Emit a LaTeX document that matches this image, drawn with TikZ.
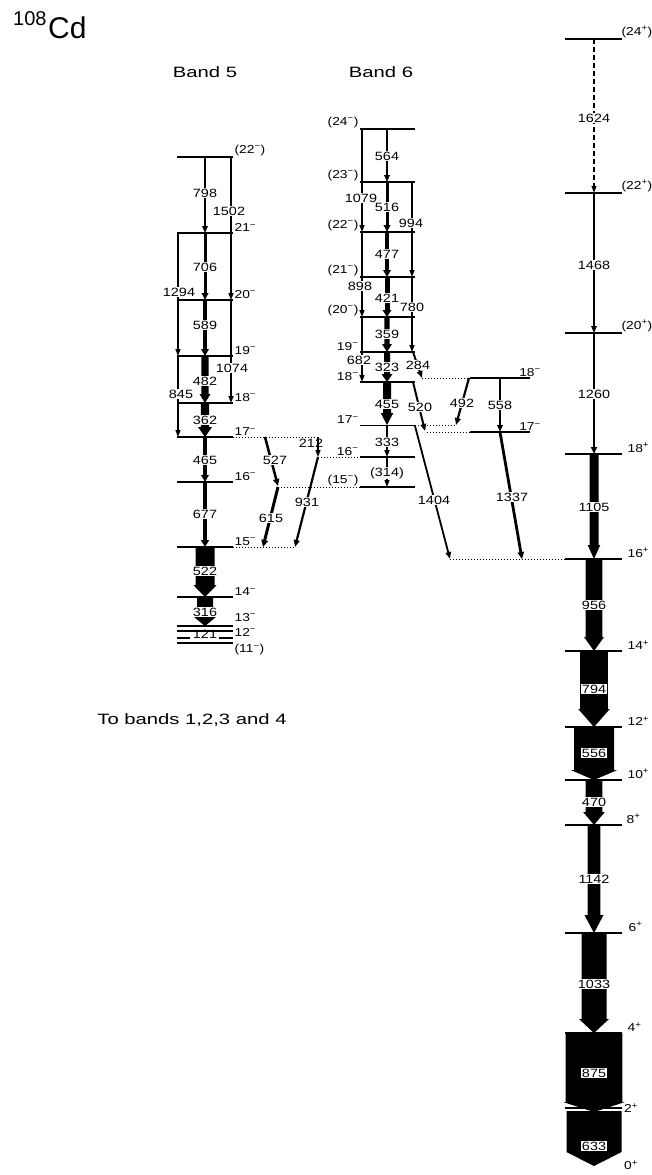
\documentclass[tikz,border=0pt]{standalone}
\usepackage{fontspec}
\setmainfont[FakeStretch=1.2]{Liberation Sans}
\newfontfamily\titlefont{Liberation Sans}
\newfontfamily\widefont[FakeStretch=1.35]{Liberation Sans}
\usetikzlibrary{arrows.meta}
\newcommand{\Mi}{\textsuperscript{−}}
\newcommand{\Pl}{\textsuperscript{+}}
% wide gamma arrow: x, y top, y tip, half width, head half width, head length
\newcommand{\fatgam}[6]{\fill (#1-#4,#2) -- (#1+#4,#2) -- (#1+#4,#3-#6) -- (#1+#5,#3-#6) -- (#1,#3) -- (#1-#5,#3-#6) -- (#1-#4,#3-#6) -- cycle;}

\begin{document}
\begin{tikzpicture}[x=1pt, y=-1pt,
    lev/.style={line width=1.2pt},
    link/.style={line width=1pt, dash pattern=on 1pt off 2pt},
    gam/.style={line width=#1, -{Triangle[length=7pt, width=3.5pt 1]}},
    gam/.default=1.5pt,
    lab/.style={fill=white, inner sep=0.6pt, font=\fontsize{12}{12}\selectfont},
    spin/.style={inner sep=1pt, font=\fontsize{11.5}{12}\selectfont}]
        \useasboundingbox (0,0) rectangle (651,1175);

        % title and band names
        \node[anchor=base west, inner sep=0, font=\titlefont\fontsize{20}{20}\selectfont] (mass) at (13,25) {108};
        \node[anchor=base west, inner sep=0, font=\titlefont\fontsize{30}{30}\selectfont] (elem) at (48,38) {Cd};
        \node[font=\widefont\fontsize{15}{15}\selectfont] (band5) at (205,72) {Band 5};
        \node[font=\widefont\fontsize{15}{15}\selectfont] (band6) at (381,72) {Band 6};
        \node[font=\widefont\fontsize{15}{15}\selectfont] (tobands) at (192,720) {To bands 1,2,3 and 4};

        % band 5 levels
        \foreach \y/\s/\a/\dy in {157/{(22\Mi)}/south west/0, 233/21\Mi/south west/0, 300/20\Mi/south west/0,
                356/19\Mi/south west/0, 403/18\Mi/south west/0, 437/17\Mi/south west/0, 482/16\Mi/south west/0,
                547/15\Mi/south west/0, 597/14\Mi/south west/0, 626/13\Mi/south west/3, 631/12\Mi/west/-1,
                643/{(11\Mi)}/north west/0}
            \draw[lev] (177,\y) -- (233,\y) node[spin, anchor=\a, yshift=\dy pt] (b5-\y) {\s};
        \draw[lev] (177,638) -- (190,638);
        \draw[lev] (219,638) -- (233,638);

        % band 6 levels
        \foreach \y/\s in {129/{(24\Mi)}, 182/{(23\Mi)}, 232/{(22\Mi)}, 277/{(21\Mi)}, 317/{(20\Mi)},
                352/19\Mi, 382/18\Mi, 457/16\Mi, 487/{(15\Mi)}}
            \draw[lev] (415,\y) -- (360,\y) node[spin, anchor=south east] (b6-\y) {\s};
        \draw[line width=0.7pt] (415,425) -- (360,425) node[spin, anchor=south east] (b6-425) {17\Mi};

        % side levels
        \draw[lev] (470,378) -- (530,378) node[spin, anchor=south] (s-378) {18\Mi};
        \draw[lev] (470,432) -- (530,432) node[spin, anchor=south] (s-432) {17\Mi};

        % links between bands
        \draw[link] (233,437) -- (320,437);
        \draw[link] (233,547) -- (296,547);
        \draw[link] (318,457) -- (360,457);
        \draw[link] (278,487) -- (360,487);
        \draw[link] (415,425) -- (456,425);
        \draw[link] (422,378) -- (470,378);
        \draw[link] (427,432) -- (470,432);
        \draw[link] (450,559) -- (565,559);

        % ground band levels
        \foreach \y/\s/\dx in {39/{(24\Pl)}/-2, 193/{(22\Pl)}/-2, 333/{(20\Pl)}/-2, 454/18\Pl/4, 559/16\Pl/4,
                651/14\Pl/4, 727/12\Pl/4, 780/10\Pl/4, 825/8\Pl/3, 933/6\Pl/5, 1033/4\Pl/4}
            \draw[lev] (565,\y) -- (622,\y) node[spin, anchor=south west, xshift=\dx pt] (g-\y) {\s};
        \draw[lev] (565,1108) -- (622,1108);
        \node[spin, anchor=west] (g-1108) at (623,1108) {2\Pl};
        \node[spin, anchor=west] (g-1165) at (623,1165) {0\Pl};

        % band 5 transitions
        \draw[gam=2pt] (205,157) -- (205,233);
        \draw[gam] (231,157) -- (231,300);
        \draw[gam=3pt] (205,233) -- (205,300);
        \draw[gam] (178,233) -- (178,356);
        \draw[gam=4pt] (205,300) -- (205,356);
        \draw[gam] (231,300) -- (231,403);
        \fatgam{205}{356}{403}{3.7}{5.5}{9}
        \draw[gam] (178,356) -- (178,437);
        \fatgam{205}{403}{437}{4.2}{7}{10}
        \draw[gam=4pt] (205,437) -- (205,482);
        \draw[gam=4.5pt] (205,482) -- (205,547);
        \fatgam{205}{547}{597}{9.5}{11.7}{12}
        \fatgam{205}{597}{626}{8}{11}{9}

        % band 5 to band 6
        \draw[gam=2.5pt] (265,437) -- (278,486);
        \draw[gam=3pt] (278,487) -- (263,547);
        \draw[gam] (318,437) -- (318,457);
        \draw[gam=2.2pt] (318,457) -- (295,547);

        % band 6 transitions
        \draw[gam=2pt] (387,129) -- (387,182);
        \draw[gam] (362,129) -- (362,232);
        \draw[gam=3pt] (387,182) -- (387,232);
        \draw[gam] (412,182) -- (412,277);
        \draw[gam=4pt] (387,232) -- (387,277);
        \draw[gam] (362,232) -- (362,317);
        \draw[gam=5pt] (387,277) -- (387,317);
        \draw[gam] (412,277) -- (412,352);
        \fatgam{387}{317}{352}{2.6}{5}{8}
        \draw[gam] (362,317) -- (362,382);
        \fatgam{387}{352}{382}{3}{5.5}{8}
        \draw[gam=2pt] (413,352) -- (422,378);
        \fatgam{387}{382}{425}{4}{6.3}{12}
        \draw[gam=2pt] (413,382) -- (425,431);
        \draw[gam=1.6pt] (387,425) -- (387,457);
        \draw[gam=1.4pt] (387,457) -- (387,487);
        \draw[gam=1.8pt] (415,426) -- (450,559);

        % side band transitions
        \draw[gam=2.2pt] (469,378) -- (456,425);
        \draw[gam=2pt] (500,378) -- (500,432);
        \draw[gam=2.8pt] (500,432) -- (522,559);

        % ground band transitions
        \draw[gam=1.3pt, dash pattern=on 5pt off 3pt] (594,39) -- (594,193);
        \draw[gam=2pt] (594,193) -- (594,333);
        \draw[gam=2.5pt] (594,333) -- (594,454);
        \fatgam{594}{454}{559}{4.5}{6.3}{14}
        \fatgam{594}{559}{651}{8.3}{10}{14}
        \fatgam{594}{651}{727}{13.8}{15.8}{18}
        \fatgam{594}{727}{780}{20}{23.3}{10}
        \fatgam{594}{780}{825}{8.3}{10.8}{13}
        \fatgam{594}{825}{933}{6.3}{9.5}{18}
        \fatgam{594}{933}{1033}{12.5}{15}{14}
        \fatgam{594}{1111}{1166}{27.5}{27.5}{14}
        \fatgam{594}{1033}{1112}{28.3}{31}{10}

        % energy labels
        \node[lab] (e798) at (205,193) {798};
        \node[lab] (e1502) at (229,211) {1502};
        \node[lab] (e706) at (205,267) {706};
        \node[lab] (e1294) at (179,292) {1294};
        \node[lab] (e589) at (205,325) {589};
        \node[lab] (e1074) at (232,368) {1074};
        \node[lab] (e482) at (205,381) {482};
        \node[lab] (e845) at (181,394) {845};
        \node[lab] (e362) at (205,420) {362};
        \node[lab] (e465) at (205,460) {465};
        \node[lab] (e677) at (205,514) {677};
        \node[lab] (e522) at (205,571) {522};
        \node[lab] (e316) at (205,612) {316};
        \node[lab, fill=none] (e121) at (205,634) {121};
        \node[lab] (e527) at (275,460) {527};
        \node[lab] (e615) at (271,518) {615};
        \node[lab, fill=none] (e212) at (311,443) {212};
        \node[lab] (e931) at (307,502) {931};
        \node[lab] (e564) at (387,156) {564};
        \node[lab] (e1079) at (361,198) {1079};
        \node[lab] (e516) at (387,207) {516};
        \node[lab] (e994) at (411,223) {994};
        \node[lab] (e477) at (387,254) {477};
        \node[lab] (e898) at (360,286) {898};
        \node[lab] (e421) at (387,298) {421};
        \node[lab] (e780) at (412,307) {780};
        \node[lab] (e359) at (387,334) {359};
        \node[lab] (e682) at (359,360) {682};
        \node[lab] (e323) at (387,367) {323};
        \node[lab] (e284) at (418,365) {284};
        \node[lab] (e455) at (387,404) {455};
        \node[lab] (e520) at (420,407) {520};
        \node[lab] (e492) at (462,403) {492};
        \node[lab] (e558) at (500,405) {558};
        \node[lab] (e333) at (387,442) {333};
        \node[lab] (e314) at (387,473) {(314)};
        \node[lab] (e1404) at (434,500) {1404};
        \node[lab] (e1337) at (512,497) {1337};
        \node[lab] (e1624) at (594,118) {1624};
        \node[lab] (e1468) at (594,265) {1468};
        \node[lab] (e1260) at (594,394) {1260};
        \node[lab] (e1105) at (594,507) {1105};
        \node[lab] (e956) at (594,605) {956};
        \node[lab] (e794) at (594,689) {794};
        \node[lab] (e556) at (594,753) {556};
        \node[lab] (e470) at (594,802) {470};
        \node[lab] (e1142) at (594,879) {1142};
        \node[lab] (e1033) at (594,984) {1033};
        \node[lab] (e875) at (594,1073) {875};
        \node[lab] (e633) at (594,1146) {633};
    \end{tikzpicture}
\end{document}
